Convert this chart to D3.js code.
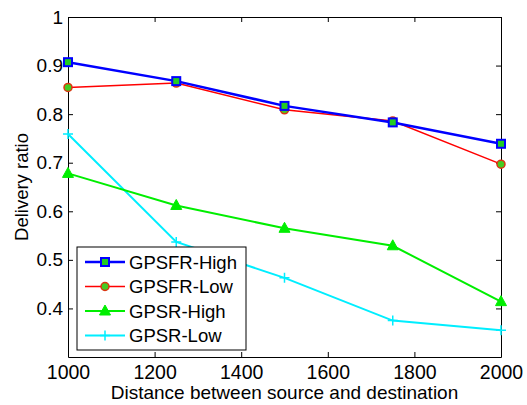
<!DOCTYPE html>
<html>
<head>
<meta charset="utf-8">
<script src="https://cdn.jsdelivr.net/npm/d3@7"></script>
<style>
  body { margin: 0; background: #fff; }
  text { font-family: Arial, "Liberation Sans", sans-serif; fill: #000; }
</style>
</head>
<body>
<div id="chart"></div>
<script>
// data
const distances = [1000, 1250, 1500, 1750, 2000];
const gpsfrHigh = [0.907, 0.868, 0.817, 0.783, 0.739];
const gpsfrLow  = [0.855, 0.864, 0.809, 0.786, 0.697];
const gpsrHigh  = [0.678, 0.612, 0.565, 0.529, 0.414];
const gpsrLow   = [0.759, 0.537, 0.463, 0.375, 0.355];
const seriesNames = ['GPSFR-High', 'GPSFR-Low', 'GPSR-High', 'GPSR-Low'];
const xTicks = [1000, 1200, 1400, 1600, 1800, 2000];
const yTicks = [0.4, 0.5, 0.6, 0.7, 0.8, 0.9, 1];

const W = 527, H = 405;
const margin = { left: 68, right: 26, top: 17, bottom: 48 };

const svg = d3.select('#chart').append('svg')
    .attr('width', W).attr('height', H);

const x = d3.scaleLinear().domain([1000, 2000]).range([margin.left, W - margin.right]);
const y = d3.scaleLinear().domain([0.3, 1]).range([H - margin.bottom, margin.top]);

// 坐标轴 (ticks point inward, box on all sides)
const tl = 5;
svg.append('g')
    .attr('transform', `translate(0,${y(0.3)})`)
    .call(d3.axisBottom(x).tickValues(xTicks).tickSizeInner(-tl).tickSizeOuter(0).tickPadding(8)
        .tickFormat(d3.format('d')))
    .call(g => g.selectAll('text').style('font-size', '19.5px'));
svg.append('g')
    .attr('transform', `translate(0,${y(1)})`)
    .call(d3.axisTop(x).tickValues(xTicks).tickSizeInner(-tl).tickSizeOuter(0).tickFormat(''));
svg.append('g')
    .attr('transform', `translate(${x(1000)},0)`)
    .call(d3.axisLeft(y).tickValues(yTicks).tickSizeInner(-tl).tickSizeOuter(0).tickPadding(5)
        .tickFormat(d => d === 1 ? '1' : d3.format('.1f')(d)))
    .call(g => g.selectAll('text').style('font-size', '19px'));
svg.append('g')
    .attr('transform', `translate(${x(2000)},0)`)
    .call(d3.axisRight(y).tickValues(yTicks).tickSizeInner(-tl).tickSizeOuter(0).tickFormat(''));
svg.selectAll('.domain').attr('stroke', '#000');
svg.selectAll('.tick line').attr('stroke', '#000');

// 轴标题
svg.append('text')
    .attr('x', x(1500)).attr('y', 399)
    .attr('text-anchor', 'middle')
    .style('font-size', '19px')
    .text('Distance between source and destination');
svg.append('text')
    .attr('transform', `translate(28,${y(0.65)}) rotate(-90)`)
    .attr('text-anchor', 'middle')
    .style('font-size', '18.5px')
    .text('Delivery ratio');

const series = [
    { name: seriesNames[0], values: gpsfrHigh, color: '#0000ff', width: 2.5, marker: 'square' },
    { name: seriesNames[1], values: gpsfrLow,  color: '#ff0000', width: 1.5, marker: 'circle' },
    { name: seriesNames[2], values: gpsrHigh,  color: '#00ee00', width: 2,   marker: 'triangle' },
    { name: seriesNames[3], values: gpsrLow,   color: '#00eeff', width: 2,   marker: 'plus' }
];

function drawMarker(g, type, color, cx, cy) {
    if (type === 'square') {
        g.append('rect').attr('x', cx - 4).attr('y', cy - 4).attr('width', 8).attr('height', 8)
            .attr('fill', '#22cc22').attr('stroke', color).attr('stroke-width', 2);
    } else if (type === 'circle') {
        g.append('circle').attr('cx', cx).attr('cy', cy).attr('r', 4)
            .attr('fill', '#44cc22').attr('stroke', '#dd3311').attr('stroke-width', 1.5);
    } else if (type === 'triangle') {
        g.append('path')
            .attr('d', `M${cx},${cy - 6}L${cx + 5.5},${cy + 4}L${cx - 5.5},${cy + 4}Z`)
            .attr('fill', color).attr('stroke', color);
    } else {
        g.append('path')
            .attr('d', `M${cx - 5},${cy}H${cx + 5}M${cx},${cy - 5}V${cy + 5}`)
            .attr('stroke', color).attr('stroke-width', 1.5).attr('fill', 'none');
    }
}

const line = d3.line().x(d => x(d[0])).y(d => y(d[1]));

// draw in reverse so the high series sit on top
series.slice().reverse().forEach(s => {
    const pts = distances.map((d, i) => [d, s.values[i]]);
    const g = svg.append('g');
    g.append('path').datum(pts).attr('d', line)
        .attr('fill', 'none').attr('stroke', s.color).attr('stroke-width', s.width);
    pts.forEach(p => drawMarker(g, s.marker, s.color, x(p[0]), y(p[1])));
});

// 图例
const lg = svg.append('g');
lg.append('rect').attr('x', 77).attr('y', 247).attr('width', 169).attr('height', 103)
    .attr('fill', '#fff').attr('stroke', '#000').attr('stroke-width', 1);
series.forEach((s, i) => {
    const ly = 262 + i * 24.5;
    lg.append('line').attr('x1', 85).attr('x2', 125).attr('y1', ly).attr('y2', ly)
        .attr('stroke', s.color).attr('stroke-width', s.width);
    drawMarker(lg, s.marker, s.color, 105, ly);
    lg.append('text').attr('x', 129).attr('y', ly + 6.5)
        .style('font-size', '18.5px').text(s.name);
});
</script>
</body>
</html>
